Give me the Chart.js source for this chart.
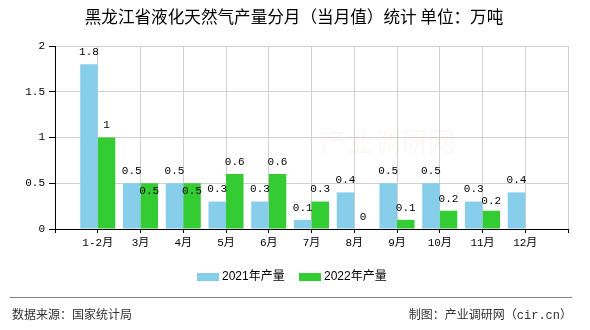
<!DOCTYPE html>
<html>
<head>
<meta charset="utf-8">
<script src="https://cdn.jsdelivr.net/npm/chart.js@4.4.0/dist/chart.umd.min.js"></script>
<style>
html,body{margin:0;padding:0;background:#fff;}
#wrap{width:590px;height:330px;position:relative;}
</style>
</head>
<body>
<div id="wrap"><canvas id="c" width="590" height="330"></canvas></div>
<script>
const titleText = '黑龙江省液化天然气产量分月（当月值）统计 单位：万吨';
const categories = ['', '1-2月', '3月', '4月', '5月', '6月', '7月', '8月', '9月', '10月', '11月', '12月', ''];
const series2021 = [null, 1.8, 0.5, 0.5, 0.3, 0.3, 0.1, 0.4, 0.5, 0.5, 0.3, 0.4, null];
const series2022 = [null, 1, 0.5, 0.5, 0.6, 0.6, 0.3, 0, 0.1, 0.2, 0.2, null, null];
const seriesNames = ['2021年产量', '2022年产量'];
const seriesColors = ['#87CEEB', '#33CC33'];
const yTicks = [0, 0.5, 1, 1.5, 2];
const sourceText = '数据来源：国家统计局';
const creditText = '制图：产业调研网（cir.cn）';

const MONO = '"Liberation Mono", "Noto Sans CJK SC", monospace';
const CJK = '"Liberation Sans", "Noto Sans CJK SC", sans-serif';

const decor = {
  id: 'decor',
  beforeDatasetsDraw(chart) {
    const ctx = chart.ctx;
    ctx.save();
    ctx.font = '27px "Noto Sans CJK SC", sans-serif';
    ctx.fillStyle = 'rgba(210,150,150,0.07)';
    ctx.textAlign = 'left';
    ctx.textBaseline = 'middle';
    ctx.fillText('产业调研网', 320, 142);
    ctx.restore();
  },
  afterDraw(chart) {
    const ctx = chart.ctx;
    ctx.save();
    // title
    ctx.font = '16.6px "Noto Sans CJK SC", sans-serif';
    ctx.fillStyle = '#000';
    ctx.textAlign = 'center';
    ctx.textBaseline = 'middle';
    ctx.fillText(titleText, 294, 17);

    // data labels
    ctx.font = '11px ' + MONO;
    ctx.textAlign = 'center';
    ctx.textBaseline = 'middle';
    ctx.fillStyle = '#000';
    const m0 = chart.getDatasetMeta(0).data;
    const m1 = chart.getDatasetMeta(1).data;
    for (let i = 0; i < categories.length; i++) {
      let y0 = null;
      const v0 = chart.data.datasets[0].data[i];
      if (v0 !== null && v0 !== undefined) {
        y0 = m0[i].y - 12;
        ctx.fillText(String(v0), m0[i].x, y0);
      }
      const v1 = chart.data.datasets[1].data[i];
      if (v1 !== null && v1 !== undefined) {
        let y1 = m1[i].y - 12;
        if (y0 !== null && Math.abs(y1 - y0) < 12) {
          y1 = (Math.abs(y1 - y0) < 4) ? y0 + 20 : y0 + 12;
        }
        ctx.fillText(String(v1), m1[i].x, y1);
      }
    }

    // legend
    ctx.font = '12px ' + CJK;
    ctx.textAlign = 'left';
    const lx = [197, 299];
    for (let k = 0; k < 2; k++) {
      ctx.fillStyle = chart.data.datasets[k].backgroundColor;
      ctx.fillRect(lx[k], 273, 22, 8);
      ctx.fillStyle = '#000';
      ctx.fillText(chart.data.datasets[k].label, lx[k] + 25, 277);
    }

    // separator
    ctx.strokeStyle = '#808080';
    ctx.lineWidth = 1;
    ctx.beginPath();
    ctx.moveTo(10, 297.5);
    ctx.lineTo(572, 297.5);
    ctx.stroke();

    // footer
    ctx.fillStyle = '#333';
    ctx.font = '12px ' + MONO;
    ctx.textAlign = 'left';
    ctx.fillText(sourceText, 12, 316);
    ctx.textAlign = 'right';
    ctx.fillText(creditText, 572, 316);
    ctx.restore();
  }
};

new Chart(document.getElementById('c'), {
  type: 'bar',
  data: {
    labels: categories,
    datasets: [
      { label: seriesNames[0], data: series2021, backgroundColor: seriesColors[0], borderWidth: 0 },
      { label: seriesNames[1], data: series2022, backgroundColor: seriesColors[1], borderWidth: 0 }
    ]
  },
  options: {
    responsive: false,
    animation: false,
    devicePixelRatio: 1,
    layout: { padding: { left: 0, right: 22, top: 46, bottom: 71 } },
    datasets: { bar: { categoryPercentage: 0.82, barPercentage: 1.0 } },
    plugins: { legend: { display: false }, title: { display: false }, tooltip: { enabled: false } },
    scales: {
      x: {
        offset: false,
        grid: { offset: false, color: '#d0d0d0', tickColor: '#000', tickLength: 4, lineWidth: 1 },
        border: { color: '#000', width: 1, z: 1 },
        ticks: {
          color: '#000', font: { family: MONO, size: 11 }, maxRotation: 0, autoSkip: false, padding: 3
        },
        afterFit(s) { s.height = 30; }
      },
      y: {
        min: 0, max: 2,
        afterBuildTicks(s) { s.ticks = yTicks.map(v => ({ value: v })); },
        grid: { color: '#d0d0d0', tickColor: '#000', tickLength: 6, lineWidth: 1 },
        border: { color: '#000', width: 1, z: 1 },
        ticks: { color: '#000', font: { family: MONO, size: 11 }, padding: 4, callback: v => String(v) },
        afterFit(s) { s.width = 55; }
      }
    }
  },
  plugins: [decor]
});
</script>
</body>
</html>
